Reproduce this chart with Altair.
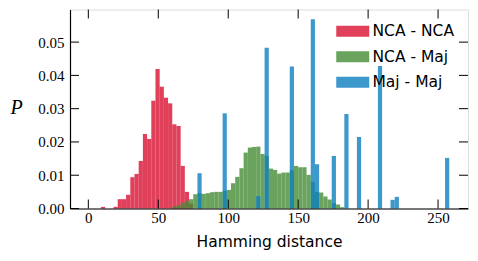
import altair as alt
import pandas as pd

# Histogram bins (width 3, left edges) and probabilities
series_names = ["NCA - NCA", "NCA - Maj", "Maj - Maj"]
series_colors = ["#D91032", "#458C36", "#0C7EBF"]

red_bins = [9, 18, 21, 24, 27, 30, 33, 36, 39, 42, 45, 48, 51, 54, 57, 60, 63, 66, 69, 72]
red_vals = [0.0005, 0.0005, 0.0028, 0.0028, 0.0041, 0.0094, 0.0104, 0.0143, 0.0224, 0.0209,
            0.0324, 0.0419, 0.0366, 0.0333, 0.0316, 0.0253, 0.0248, 0.0128, 0.0050, 0.0015]

green_bins = [60, 63, 66, 69, 72, 75, 78, 81, 84, 87, 90, 93, 96, 99, 102, 105, 108, 111, 114,
              117, 120, 123, 126, 129, 132, 135, 138, 141, 144, 147, 150, 153, 156, 159, 162,
              165, 168, 171, 174, 177, 180]
green_vals = [0.0006, 0.0009, 0.0016, 0.0023, 0.0028, 0.0043, 0.0046, 0.0044, 0.0046, 0.0049,
              0.0050, 0.0050, 0.0053, 0.0056, 0.0076, 0.0095, 0.0121, 0.0168, 0.0183, 0.0185,
              0.0186, 0.0164, 0.0158, 0.0120, 0.0116, 0.0105, 0.0108, 0.0108, 0.0115, 0.0128,
              0.0124, 0.0124, 0.0101, 0.0080, 0.0050, 0.0048, 0.0036, 0.0027, 0.0016, 0.0012,
              0.0004]

blue_bins = [78, 96, 120, 126, 144, 159, 162, 174, 183, 192, 207, 216, 219, 255]
blue_vals = [0.0106, 0.0286, 0.0037, 0.0483, 0.0427, 0.0569, 0.0133, 0.0158, 0.0284, 0.0215,
             0.0428, 0.0026, 0.0035, 0.0152]

bin_width = 3
x_ticks = [0, 50, 100, 150, 200, 250]
y_ticks = [0.0, 0.01, 0.02, 0.03, 0.04, 0.05]
x_domain = [-13.1, 271.4]
y_domain = [0, 0.0598]

rows = []
for name, bins, vals in zip(series_names, [red_bins, green_bins, blue_bins],
                            [red_vals, green_vals, blue_vals]):
    for b, v in zip(bins, vals):
        rows.append({"series": name, "x0": b, "x1": b + bin_width, "p": v})
df = pd.DataFrame(rows)

W, H = 398, 199
TL = 9

xs = alt.Scale(domain=x_domain, nice=False, zero=False)
ys = alt.Scale(domain=y_domain, nice=False)

x_axis = alt.Axis(
    values=x_ticks, labelFont="Liberation Serif", labelFontSize=15, labelColor="black",
    labelPadding=2, ticks=False, grid=False, domain=True, domainColor="black",
    domainWidth=1.2, zindex=1, title="Hamming distance", titleFont="DejaVu Sans",
    titleFontSize=15.5, titleFontWeight="normal", titleColor="black", titleY=38,
    titleX=199, titleAlign="center", titleBaseline="alphabetic")
y_axis = alt.Axis(
    values=y_ticks, format=".2f", labelFont="Liberation Serif", labelFontSize=15,
    labelColor="black", labelPadding=6, ticks=False, grid=False, domain=True,
    domainColor="black", domainWidth=1.2, zindex=1, title="P",
    titleFont="Liberation Serif", titleFontStyle="italic", titleFontWeight="normal",
    titleFontSize=20, titleColor="black", titleAngle=0, titleX=-54, titleY=98,
    titleAlign="center", titleBaseline="middle")

bars = alt.Chart(df).mark_rect(opacity=0.8, strokeWidth=0).encode(
    x=alt.X("x0:Q", scale=xs, axis=x_axis),
    x2="x1:Q",
    y=alt.Y("p:Q", scale=ys, axis=y_axis),
    y2=alt.datum(0),
    color=alt.Color("series:N", scale=alt.Scale(domain=series_names, range=series_colors),
                    sort=series_names,
                    legend=alt.Legend(
                        title=None, orient="none", legendX=275, legendY=14,
                        symbolType="M-3,-1H3V1H-3Z", symbolSize=121, symbolOpacity=0.8,
                        symbolStrokeWidth=0, labelOffset=12, labelFont="DejaVu Sans",
                        labelFontSize=15.5, labelColor="black", rowPadding=8.5,
                        padding=0, labelLimit=200)),
)

xt = pd.DataFrame({"x0": x_ticks})
yt = pd.DataFrame({"p": y_ticks})

bottom = alt.Chart(xt).mark_rule(color="black", strokeWidth=1).encode(
    x=alt.X("x0:Q", scale=xs, axis=x_axis), y=alt.value(H), y2=alt.value(H - TL))
top = alt.Chart(xt).mark_rule(color="black", strokeWidth=1).encode(
    x=alt.X("x0:Q", scale=xs, axis=x_axis), y=alt.value(0), y2=alt.value(TL))
left = alt.Chart(yt).mark_rule(color="black", strokeWidth=1).encode(
    y=alt.Y("p:Q", scale=ys, axis=y_axis), x=alt.value(0), x2=alt.value(TL))
right = alt.Chart(yt).mark_rule(color="black", strokeWidth=1).encode(
    y=alt.Y("p:Q", scale=ys, axis=y_axis), x=alt.value(W), x2=alt.value(W - TL))

chart = alt.layer(bars, bottom, top, left, right).properties(
    width=W, height=H,
    autosize=alt.AutoSizeParams(type="none"),
    padding={"left": 62, "top": 1.5, "right": 2, "bottom": 45},
).configure_view(stroke="black", strokeWidth=1.2).configure(background="white")

chart.save("out.html", embed_options={"renderer": "svg", "actions": False})
